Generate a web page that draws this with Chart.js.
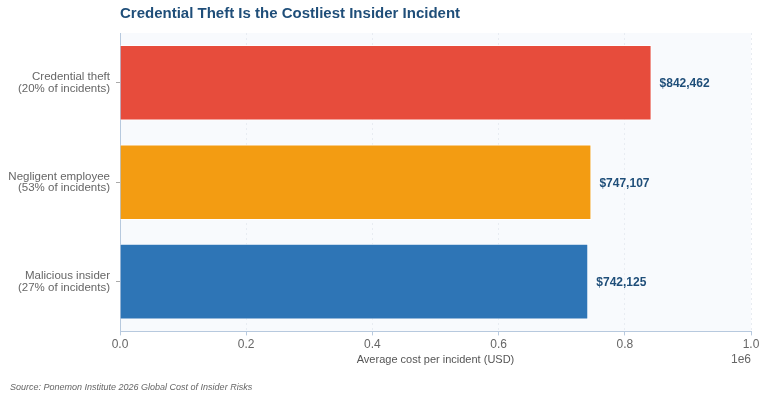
<!DOCTYPE html>
<html>
<head>
<meta charset="utf-8">
<script src="https://cdn.jsdelivr.net/npm/chart.js@4/dist/chart.umd.min.js"></script>
<style>
  html, body { margin: 0; padding: 0; background: #fff; }
  #wrap { width: 767px; height: 400px; }
</style>
</head>
<body>
<div id="wrap"><canvas id="costChart"></canvas></div>
<script>
const categories = [
    ['Credential theft', '(20% of incidents)'],
    ['Negligent employee', '(53% of incidents)'],
    ['Malicious insider', '(27% of incidents)']
];
const costs = [842462, 747107, 742125];
const barColors = ['#e74c3c', '#f39c12', '#2e75b6'];

const titleText = 'Credential Theft Is the Costliest Insider Incident';
const sourceText = 'Source: Ponemon Institute 2026 Global Cost of Insider Risks';

const fmtMoney = (v) => '$' + v.toLocaleString('en-US');

// plot background, title, value labels, offset text and source line
const decorPlugin = {
    id: 'decor',
    beforeDraw(chart) {
        const { ctx, chartArea } = chart;
        ctx.save();
        ctx.fillStyle = '#f8fafd';
        ctx.fillRect(chartArea.left, chartArea.top, chartArea.right - chartArea.left, chartArea.bottom - chartArea.top);
        ctx.restore();
    },
    afterDraw(chart) {
        const { ctx, chartArea } = chart;
        ctx.save();
        // title
        ctx.font = 'bold 15px "Liberation Sans", Arial, sans-serif';
        ctx.fillStyle = '#1f4e79';
        ctx.textAlign = 'left';
        ctx.textBaseline = 'middle';
        ctx.fillText(titleText, chartArea.left, 14);

        // value labels
        const meta = chart.getDatasetMeta(0);
        ctx.font = 'bold 12px "Liberation Sans", Arial, sans-serif';
        ctx.fillStyle = '#1f4e79';
        meta.data.forEach((bar, i) => {
            ctx.fillText(fmtMoney(costs[i]), bar.x + 8, bar.y + 1);
        });

        // 1e6 offset text
        ctx.font = '12px "Liberation Sans", Arial, sans-serif';
        ctx.fillStyle = '#666';
        ctx.textAlign = 'right';
        ctx.fillText('1e6', chartArea.right, 360);

        // source
        ctx.font = 'italic 9px "Liberation Sans", Arial, sans-serif';
        ctx.fillStyle = '#666';
        ctx.textAlign = 'left';
        ctx.fillText(sourceText, 10, 387);
        ctx.restore();
    }
};

const costChart = new Chart(document.getElementById('costChart'), {
    type: 'bar',
    data: {
        labels: categories,
        datasets: [{
            data: costs,
            backgroundColor: barColors,
            borderColor: '#ffffff',
            borderWidth: 1,
            barPercentage: 0.76,
            categoryPercentage: 1.0
        }]
    },
    options: {
        indexAxis: 'y',
        responsive: true,
        maintainAspectRatio: false,
        animation: false,
        layout: {
            padding: { top: 33, right: 16, bottom: 33, left: 0 }
        },
        plugins: {
            legend: { display: false },
            title: { display: false },
            tooltip: { enabled: false }
        },
        scales: {
            x: {
                min: 0,
                max: 1000000,
                ticks: {
                    stepSize: 200000,
                    color: '#666',
                    font: { size: 12, family: '"Liberation Sans", Arial, sans-serif' },
                    callback: (v) => (v / 1000000).toFixed(1),
                    padding: 2
                },
                grid: {
                    color: '#e8ecf2',
                    tickColor: '#b7c9de',
                    tickLength: 4
                },
                border: { color: '#b7c9de', dash: [2, 3] },
                title: {
                    display: true,
                    text: 'Average cost per incident (USD)',
                    color: '#555',
                    font: { size: 11, family: '"Liberation Sans", Arial, sans-serif' },
                    padding: { top: 0, bottom: 0 }
                }
            },
            y: {
                afterFit: (scale) => { scale.width = 120; },
                ticks: {
                    color: '#666',
                    font: { size: 11.5, lineHeight: 1.0, family: '"Liberation Sans", Arial, sans-serif' },
                    padding: 6
                },
                grid: {
                    display: true,
                    offset: false,
                    drawOnChartArea: false,
                    tickColor: '#aaa',
                    tickLength: 4
                },
                border: { color: '#b7c9de' }
            }
        }
    },
    plugins: [decorPlugin]
});
</script>
</body>
</html>
